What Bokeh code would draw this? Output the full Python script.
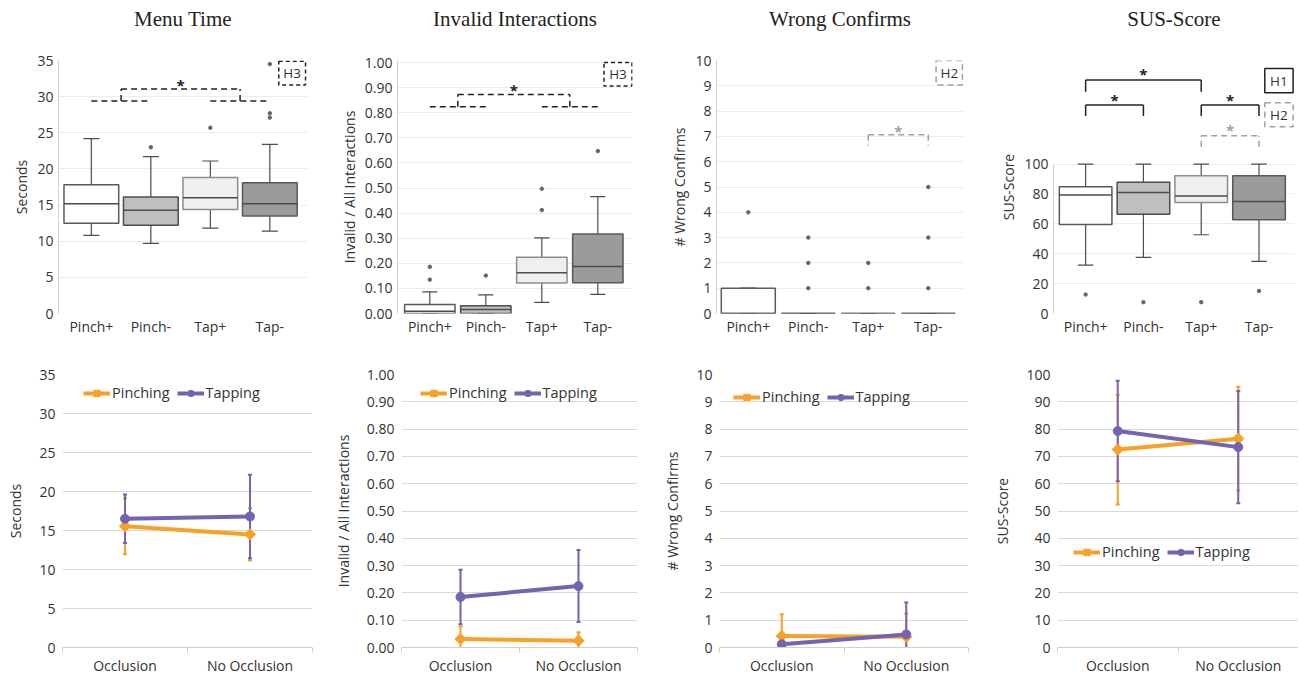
from bokeh.plotting import figure
from bokeh.layouts import column, row
from bokeh.models import (Range1d, FixedTicker, ColumnDataSource, Whisker, TeeHead,
                          Legend, LegendItem, NumeralTickFormatter)
from bokeh.core.properties import value
from bokeh.embed import file_html
from bokeh.resources import INLINE
import math

FONT = "Open Sans"
SERIF = "Liberation Serif"
TXT = "#333333"

# ---------------- data: box plots ----------------
titles = ["Menu Time", "Invalid Interactions", "Wrong Confirms", "SUS-Score"]
box_cats = ["Pinch+", "Pinch-", "Tap+", "Tap-"]
box_fills = ["#ffffff", "#bfbfbf", "#efefef", "#9b9b9b"]
box_lines = ["#595959", "#4d4d4d", "#8c8c8c", "#595959"]

mt_low = [10.8, 9.7, 11.8, 11.4]
mt_q1 = [12.5, 12.2, 14.4, 13.5]
mt_med = [15.2, 14.3, 16.0, 15.2]
mt_q3 = [17.8, 16.1, 18.8, 18.1]
mt_high = [24.2, 21.7, 21.1, 23.4]
mt_out_cat = ["Pinch-", "Tap+", "Tap-", "Tap-", "Tap-"]
mt_out_val = [23.0, 25.7, 27.7, 27.1, 34.5]

inv_low = [0.0, 0.0, 0.044, 0.076]
inv_q1 = [0.0, 0.0, 0.122, 0.123]
inv_med = [0.009, 0.016, 0.162, 0.187]
inv_q3 = [0.036, 0.031, 0.224, 0.317]
inv_high = [0.086, 0.074, 0.301, 0.466]
inv_out_cat = ["Pinch+", "Pinch+", "Pinch-", "Tap+", "Tap+", "Tap-"]
inv_out_val = [0.186, 0.135, 0.151, 0.497, 0.412, 0.647]

wc_low = [0, 0, 0, 0]
wc_q1 = [0, 0, 0, 0]
wc_med = [0, 0, 0, 0]
wc_q3 = [1, 0, 0, 0]
wc_high = [1, 0, 0, 0]
wc_out_cat = ["Pinch+", "Pinch-", "Pinch-", "Pinch-", "Tap+", "Tap+", "Tap-", "Tap-", "Tap-"]
wc_out_val = [4, 3, 2, 1, 2, 1, 5, 3, 1]

sus_low = [32.4, 37.6, 52.7, 34.9]
sus_q1 = [59.6, 66.4, 74.2, 62.7]
sus_med = [79.3, 80.9, 78.7, 74.9]
sus_q3 = [84.9, 87.8, 92.2, 92.2]
sus_high = [100, 100, 100, 100]
sus_out_cat = ["Pinch+", "Pinch-", "Tap+", "Tap-"]
sus_out_val = [12.7, 7.6, 7.6, 15.1]

# ---------------- data: line charts ----------------
line_cats = ["Occlusion", "No Occlusion"]
series = ["Pinching", "Tapping"]
mt_pinch = [15.55, 14.5]
mt_pinch_err = [3.6, 3.35]
mt_tap = [16.5, 16.8]
mt_tap_err = [3.1, 5.35]
inv_pinch = [0.031, 0.025]
inv_pinch_err = [0.046, 0.031]
inv_tap = [0.185, 0.225]
inv_tap_err = [0.10, 0.132]
wc_pinch = [0.42, 0.39]
wc_pinch_err = [0.80, 0.86]
wc_tap = [0.12, 0.48]
wc_tap_err = [0.0, 1.17]
sus_pinch = [72.5, 76.5]
sus_pinch_err = [20.1, 19.0]
sus_tap = [79.3, 73.4]
sus_tap_err = [18.4, 20.6]

ORANGE = "#f7a128"
PURPLE = "#7463ae"


def centers():
    return [i + 0.5 for i in range(len(box_cats))]


def cx(cat):
    return box_cats.index(cat) + 0.5


def title_fig(text, width, left, right):
    t = figure(width=width, height=36, x_range=Range1d(0, width), y_range=Range1d(0, 36),
               output_backend="svg", toolbar_location=None, x_axis_type=None, y_axis_type=None,
               min_border=0)
    t.outline_line_color = None
    t.grid.visible = False
    t.text(x=[left + (width - left - right) / 2], y=[18], text=[text], text_align="center",
           text_baseline="middle", text_font=value(SERIF), text_font_size="21px", text_color="#222222")
    return t


def style_top(p, ylabel, yticks, fmt):
    p.xaxis.ticker = FixedTicker(ticks=centers())
    p.xaxis.major_label_overrides = {c: n for c, n in zip(centers(), box_cats)}
    p.xaxis.axis_line_color = None
    p.xaxis.major_tick_line_color = None
    p.xaxis.minor_tick_line_color = None
    p.xaxis.major_tick_out = 0
    p.xaxis.major_tick_in = 0
    p.xaxis.major_label_standoff = 3
    p.xaxis.major_label_text_font = FONT
    p.xaxis.major_label_text_font_size = "14px"
    p.xaxis.major_label_text_color = TXT
    p.yaxis.ticker = FixedTicker(ticks=yticks)
    if fmt:
        p.yaxis.formatter = NumeralTickFormatter(format=fmt)
    p.yaxis.axis_line_color = "#d0d0d0"
    p.yaxis.major_tick_line_color = None
    p.yaxis.minor_tick_line_color = None
    p.yaxis.major_tick_out = 0
    p.yaxis.major_tick_in = 0
    p.yaxis.major_label_standoff = 5
    p.yaxis.major_label_text_font = FONT
    p.yaxis.major_label_text_font_size = "14px"
    p.yaxis.major_label_text_color = TXT
    p.yaxis.axis_label = ylabel
    p.yaxis.axis_label_text_font = FONT
    p.yaxis.axis_label_text_font_size = "14px"
    p.yaxis.axis_label_text_font_style = "normal"
    p.yaxis.axis_label_text_color = TXT
    p.yaxis.axis_label_standoff = 3
    p.xgrid.grid_line_color = None
    p.ygrid.grid_line_color = "#ececec"
    p.ygrid.ticker = FixedTicker(ticks=yticks)
    p.outline_line_color = None


def box_panel(low, q1, med, q3, high, out_cat, out_val, yr, yticks, ylabel,
              xr, width, left, right, fmt=None, box_w=0.9, cap_w=0.27):
    p = figure(width=width, height=302, x_range=Range1d(*xr), y_range=Range1d(*yr),
               output_backend="svg", toolbar_location=None,
               min_border_left=left, min_border_right=right, min_border_top=24, min_border_bottom=24)
    style_top(p, ylabel, yticks, fmt)
    c = centers()
    src = ColumnDataSource(dict(x=c, low=low, q1=q1, med=med, q3=q3, high=high,
                                fill=box_fills, line=box_lines,
                                cl=[v - cap_w / 2 for v in c], cr=[v + cap_w / 2 for v in c],
                                bl=[v - box_w / 2 for v in c], br=[v + box_w / 2 for v in c]))
    p.segment(x0="x", y0="q3", x1="x", y1="high", source=src, line_color="#4d4d4d", line_width=1.2)
    p.segment(x0="x", y0="low", x1="x", y1="q1", source=src, line_color="#4d4d4d", line_width=1.2)
    p.segment(x0="cl", y0="high", x1="cr", y1="high", source=src, line_color="#4d4d4d", line_width=1.2)
    p.segment(x0="cl", y0="low", x1="cr", y1="low", source=src, line_color="#4d4d4d", line_width=1.2)
    p.quad(left="bl", right="br", bottom="q1", top="q3", source=src,
           fill_color="fill", line_color="line", line_width=1.5)
    p.segment(x0="bl", y0="med", x1="br", y1="med", source=src, line_color="#4d4d4d", line_width=1.5)
    p.scatter([cx(k) for k in out_cat], out_val, size=3.5, color="#666666")
    return p


def bracket_lines(p, xs0, ys0, xs1, ys1, color, dash):
    p.segment(x0=xs0, y0=ys0, x1=xs1, y1=ys1, line_color=color, line_width=1.5, line_dash=dash)


def hbox(p, l, r, b, t, label, color, dash):
    p.quad(left=[l], right=[r], bottom=[b], top=[t], fill_color=None, line_color=color,
           line_width=1.5, line_dash=dash)
    p.text(x=[(l + r) / 2], y=[(b + t) / 2], text=[label], text_align="center", text_baseline="middle",
           text_font=value(FONT), text_font_size="13.5px", text_color=TXT)


def stars(p, xs, ys, color):
    p.text(x=xs, y=ys, text=["*"] * len(xs), text_align="center", text_baseline="middle",
           text_font=value(FONT), text_font_size="15px", text_color=color, text_font_style="bold")


c0, c1, c2, c3 = centers()
m01, m23 = (c0 + c1) / 2, (c2 + c3) / 2
DASH = "6 4"

# ---- Panel 1: Menu Time
p1 = box_panel(mt_low, mt_q1, mt_med, mt_q3, mt_high, mt_out_cat, mt_out_val,
               (0, 35), list(range(0, 36, 5)), "Seconds", (-0.052, 4.133), 320, 58, 13, box_w=0.92)
bracket_lines(p1, [c0, c2, m01, m01, m23], [29.4, 29.4, 31.05, 29.4, 29.4],
              [c1, c3, m23, m01, m23], [29.4, 29.4, 31.05, 31.05, 31.05], "#222222", DASH)
stars(p1, [(m01 + m23) / 2], [31.6], "#222222")
hbox(p1, 3.65, 4.10, 31.6, 34.9, "H3", "#222222", "4 3")

# ---- Panel 2: Invalid Interactions
p2 = box_panel(inv_low, inv_q1, inv_med, inv_q3, inv_high, inv_out_cat, inv_out_val,
               (0, 1.008), [i / 10 for i in range(11)], "Invalid / All Interactions", (-0.077, 4.119),
               320, 77, 8, fmt="0.00", box_w=0.9)
bracket_lines(p2, [c0, c2, m01, m01, m23], [0.824, 0.824, 0.873, 0.824, 0.824],
              [c1, c3, m23, m01, m23], [0.824, 0.824, 0.873, 0.873, 0.873], "#222222", DASH)
stars(p2, [(m01 + m23) / 2], [0.89], "#222222")
hbox(p2, 3.61, 4.11, 0.906, 1.0, "H3", "#222222", "4 3")

# ---- Panel 3: Wrong Confirms
p3 = box_panel(wc_low, wc_q1, wc_med, wc_q3, wc_high, wc_out_cat, wc_out_val,
               (0, 10), list(range(0, 11)), "# Wrong Confirms", (-0.03, 4.087), 330, 76, 7, box_w=0.9)
bracket_lines(p3, [c2, c2, c3], [7.07, 7.07, 7.07], [c3, c2, c3], [7.07, 6.63, 6.63], "#a0a0a0", DASH)
stars(p3, [(c2 + c3) / 2], [7.2], "#a0a0a0")
hbox(p3, 3.63, 4.07, 9.03, 10.0, "H2", "#a0a0a0", "6 4")

# ---- Panel 4: SUS-Score
p4 = box_panel(sus_low, sus_q1, sus_med, sus_q3, sus_high, sus_out_cat, sus_out_val,
               (0, 169.3), list(range(0, 101, 20)), "SUS-Score", (-0.056, 4.114), 328, 83, 4, box_w=0.91)
p4.yaxis.bounds = (0, 100)
bracket_lines(p4, [c0, c0, c2, c0, c0, c1, c2, c2, c3],
              [156.2, 148.4, 148.4, 139.6, 132.2, 132.2, 139.6, 132.2, 132.2],
              [c2, c0, c2, c1, c0, c1, c3, c2, c3],
              [156.2, 156.2, 156.2, 139.6, 139.6, 139.6, 139.6, 139.6, 139.6], "#222222", "solid")
bracket_lines(p4, [c2, c2, c3], [118.9, 111.6, 111.6], [c3, c2, c3], [118.9, 118.9, 118.9], "#a0a0a0", DASH)
stars(p4, [c1, m01, m23], [160.0, 142.6, 142.6], "#222222")
stars(p4, [m23], [123.0], "#a0a0a0")
hbox(p4, 3.60, 4.09, 147.8, 164.0, "H1", "#222222", "solid")
hbox(p4, 3.60, 4.09, 124.9, 141.0, "H2", "#a0a0a0", "6 4")

t1 = title_fig(titles[0], 320, 58, 13)
t2 = title_fig(titles[1], 320, 77, 8)
t3 = title_fig(titles[2], 330, 76, 7)
t4 = title_fig(titles[3], 328, 83, 4)


# ---------------- line panels ----------------
def line_panel(pinch, pinch_err, tap, tap_err, yend, yticks, ylabel, width, left, right,
               leg_loc, fmt=None):
    p = figure(width=width, height=339, x_range=Range1d(0, 2), y_range=Range1d(0, yend),
               output_backend="svg", toolbar_location=None,
               min_border_left=left, min_border_right=right, min_border_top=36, min_border_bottom=30)
    xs = [0.5, 1.5]
    p.xaxis.ticker = FixedTicker(ticks=xs, minor_ticks=[0, 1, 2])
    p.xaxis.major_label_overrides = {0.5: line_cats[0], 1.5: line_cats[1]}
    p.xaxis.axis_line_color = "#d0d0d0"
    p.xaxis.major_tick_line_color = None
    p.xaxis.major_tick_out = 0
    p.xaxis.major_tick_in = 0
    p.xaxis.minor_tick_line_color = "#d0d0d0"
    p.xaxis.minor_tick_in = 0
    p.xaxis.minor_tick_out = 5
    p.xaxis.major_label_standoff = 3
    p.xaxis.major_label_text_font = FONT
    p.xaxis.major_label_text_font_size = "14px"
    p.xaxis.major_label_text_color = TXT
    p.yaxis.ticker = FixedTicker(ticks=yticks)
    if fmt:
        p.yaxis.formatter = NumeralTickFormatter(format=fmt)
    p.yaxis.axis_line_color = None
    p.yaxis.major_tick_line_color = None
    p.yaxis.minor_tick_line_color = None
    p.yaxis.major_tick_out = 0
    p.yaxis.major_tick_in = 0
    p.yaxis.major_label_standoff = 7
    p.yaxis.major_label_text_font = FONT
    p.yaxis.major_label_text_font_size = "14px"
    p.yaxis.major_label_text_color = TXT
    p.yaxis.axis_label = ylabel
    p.yaxis.axis_label_text_font = FONT
    p.yaxis.axis_label_text_font_size = "14px"
    p.yaxis.axis_label_text_font_style = "normal"
    p.yaxis.axis_label_text_color = TXT
    p.yaxis.axis_label_standoff = 11
    p.xgrid.grid_line_color = None
    p.ygrid.grid_line_color = "#d9d9d9"
    p.ygrid.ticker = FixedTicker(ticks=yticks[1:])
    p.outline_line_color = None

    sp = ColumnDataSource(dict(x=xs, y=pinch, lo=[a - b for a, b in zip(pinch, pinch_err)],
                               hi=[a + b for a, b in zip(pinch, pinch_err)]))
    st = ColumnDataSource(dict(x=xs, y=tap, lo=[a - b for a, b in zip(tap, tap_err)],
                               hi=[a + b for a, b in zip(tap, tap_err)]))
    for src, col in ((sp, ORANGE), (st, PURPLE)):
        w = Whisker(base="x", lower="lo", upper="hi", source=src, dimension="height",
                    line_color=col, line_width=2,
                    upper_head=TeeHead(size=4, line_color=col, line_width=2),
                    lower_head=TeeHead(size=4, line_color=col, line_width=2))
        p.add_layout(w)
    lp = p.line("x", "y", source=sp, line_color=ORANGE, line_width=4)
    mp = p.scatter("x", "y", source=sp, marker="square", angle=math.pi / 4, size=8,
                   fill_color=ORANGE, line_color=ORANGE)
    lt = p.line("x", "y", source=st, line_color=PURPLE, line_width=4)
    mt = p.scatter("x", "y", source=st, marker="circle", size=9, fill_color=PURPLE, line_color=PURPLE)
    leg = Legend(items=[LegendItem(label=series[0], renderers=[lp, mp]),
                        LegendItem(label=series[1], renderers=[lt, mt])],
                 orientation="horizontal", location=leg_loc, glyph_width=27, glyph_height=16,
                 label_standoff=2, spacing=7, padding=0, margin=0, border_line_color=None,
                 background_fill_alpha=0, label_text_font=FONT, label_text_font_size="14.5px",
                 label_text_color=TXT, label_height=16)
    p.add_layout(leg)
    return p


p5 = line_panel(mt_pinch, mt_pinch_err, mt_tap, mt_tap_err, 35, list(range(0, 36, 5)), "Seconds",
                320, 62, 8, (21, 245))
p6 = line_panel(inv_pinch, inv_pinch_err, inv_tap, inv_tap_err, 1.0, [i / 10 for i in range(11)],
                "Invalid / All Interactions", 320, 81, 3, (19, 245), fmt="0.00")
p7 = line_panel(wc_pinch, wc_pinch_err, wc_tap, wc_tap_err, 10, list(range(0, 11)), "# Wrong Confirms",
                330, 79, 2, (14, 241))
p8 = line_panel(sus_pinch, sus_pinch_err, sus_tap, sus_tap_err, 100, list(range(0, 101, 10)), "SUS-Score",
                328, 87, 0, (16, 86))

layout = column(row(t1, t2, t3, t4), row(p1, p2, p3, p4), row(p5, p6, p7, p8))
open("out.html", "w").write(file_html(layout, INLINE))
